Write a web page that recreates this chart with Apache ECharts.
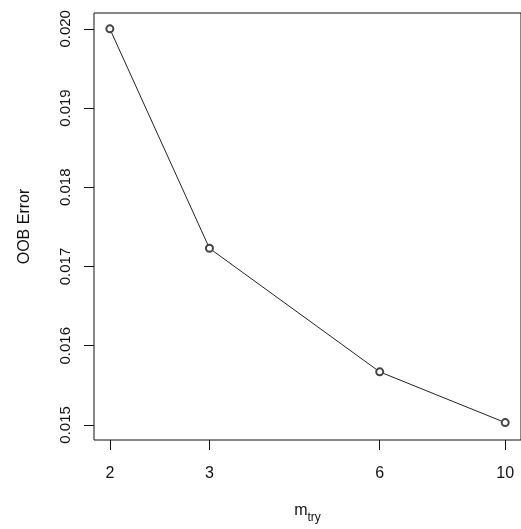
<!DOCTYPE html>
<html>
<head>
<meta charset="utf-8">
<script src="https://cdn.jsdelivr.net/npm/echarts@6/dist/echarts.min.js"></script>
<style>
html, body { margin: 0; padding: 0; background: #fff; }
#chart { width: 521px; height: 529px; }
</style>
</head>
<body>
<div id="chart"></div>
<script>
// mtry values and OOB error
var mtry = [2, 3, 6, 10];
var oobError = [0.0200, 0.01723, 0.01567, 0.01503];
var yTicks = [0.015, 0.016, 0.017, 0.018, 0.019, 0.020];

var points = [];
for (var i = 0; i < mtry.length; i++) {
	points.push([mtry[i], oobError[i]]);
}

var chart = echarts.init(document.getElementById('chart'));

var font = 'Liberation Sans, Arial, sans-serif';

option = {
	animation: false,
	backgroundColor: '#fff',
	grid: {
		left: 94,
		top: 13,
		width: 429,
		height: 430,
		show: true,
		borderColor: '#111',
		borderWidth: 1,
		containLabel: false
	},
	xAxis: {
		type: 'log',
		logBase: 10,
		min: 1.875,
		max: 10.665,
		name: '{m|m}{s|try}',
		nameLocation: 'middle',
		nameGap: 63,
		nameTextStyle: {
			rich: {
				m: { fontFamily: font, fontSize: 16, color: '#111', verticalAlign: 'bottom' },
				s: { fontFamily: font, fontSize: 12, color: '#111', verticalAlign: 'bottom', padding: [0, 0, -5, 0] }
			}
		},
		axisLine: { show: false },
		splitLine: { show: false },
		minorTick: { show: false },
		axisTick: {
			show: true,
			inside: false,
			length: 10,
			customValues: mtry,
			lineStyle: { color: '#111', width: 1 }
		},
		axisLabel: {
			customValues: mtry,
			margin: 26,
			fontFamily: font,
			fontSize: 16,
			color: '#111'
		}
	},
	yAxis: {
		type: 'value',
		min: 0.01481,
		max: 0.0202,
		name: 'OOB Error',
		nameLocation: 'middle',
		nameGap: 61,
		nameRotate: 90,
		nameTextStyle: { fontFamily: font, fontSize: 16, color: '#111' },
		axisLine: { show: false },
		splitLine: { show: false },
		axisTick: {
			show: true,
			inside: false,
			length: 10,
			customValues: yTicks,
			lineStyle: { color: '#111', width: 1 }
		},
		axisLabel: {
			customValues: yTicks,
			rotate: 90,
			margin: 21,
			fontFamily: font,
			fontSize: 15,
			color: '#111',
			formatter: function (v) { return v.toFixed(3); }
		}
	},
	series: [
		{
			type: 'line',
			data: points,
			symbol: 'emptyCircle',
			symbolSize: 7,
			showSymbol: true,
			lineStyle: { color: '#222', width: 1 },
			itemStyle: { color: '#444', borderColor: '#444', borderWidth: 1 }
		}
	]
};

chart.setOption(option);
</script>
</body>
</html>
